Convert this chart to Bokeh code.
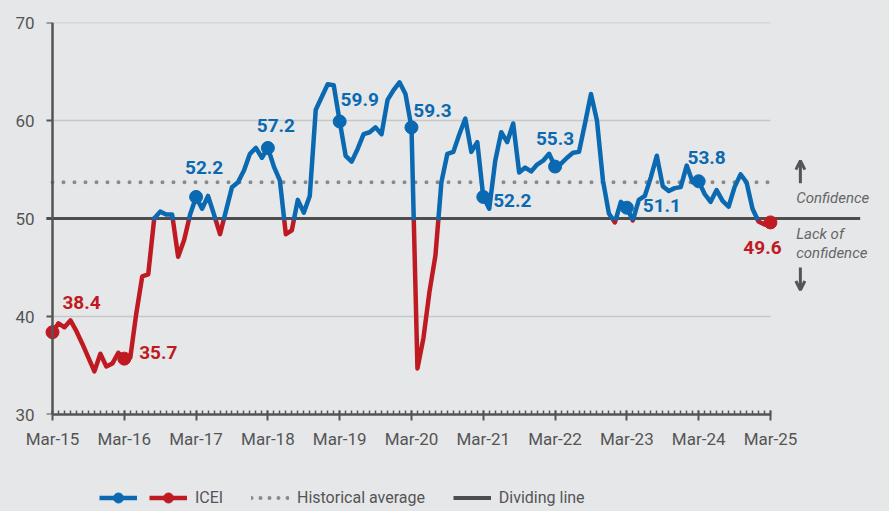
import math
from bokeh.plotting import figure
from bokeh.layouts import column
from bokeh.models import (Range1d, LinearAxis, FixedTicker, ColumnDataSource, Legend,
                          LegendItem, Label, Arrow, OpenHead, Span)
from bokeh.core.properties import value
from bokeh.embed import file_html
from bokeh.resources import INLINE

# ---------------- data ----------------
years = ["Mar-15", "Mar-16", "Mar-17", "Mar-18", "Mar-19", "Mar-20",
         "Mar-21", "Mar-22", "Mar-23", "Mar-24", "Mar-25"]
icei = [38.4, 39.3, 38.9, 39.6, 38.5, 37.2, 35.8, 34.4, 36.2, 34.9, 35.2, 36.3,
        35.7, 35.8, 40.3, 44.1, 44.3, 50.0, 50.7, 50.4, 50.4, 46.1, 47.8, 50.4,
        52.2, 51.0, 52.3, 50.4, 48.4, 50.8, 53.2, 53.7, 54.9, 56.6, 57.2, 56.2,
        57.2, 55.3, 53.9, 48.4, 48.8, 51.9, 50.6, 52.3, 61.1, 62.4, 63.7, 63.6,
        59.9, 56.4, 55.8, 57.1, 58.6, 58.8, 59.3, 58.6, 62.1, 63.1, 63.9, 62.7,
        59.3, 34.7, 37.8, 42.5, 46.2, 53.7, 56.6, 56.8, 58.6, 60.2, 56.8, 57.8,
        52.2, 51.0, 55.9, 58.8, 57.8, 59.7, 54.7, 55.2, 54.8, 55.5, 55.9, 56.6,
        55.3, 55.6, 56.2, 56.7, 56.8, 59.7, 62.7, 60.0, 53.9, 50.5, 49.6, 51.7,
        51.1, 49.8, 51.9, 52.3, 54.2, 56.4, 53.3, 52.8, 53.1, 53.2, 55.4, 53.7,
        53.8, 52.5, 51.7, 52.9, 51.8, 51.2, 53.2, 54.5, 53.7, 51.0, 49.7, 49.4,
        49.6]
highlight_idx = [0, 12, 24, 36, 48, 60, 72, 84, 96, 108, 120]
highlight_txt = ["38.4", "35.7", "52.2", "57.2", "59.9", "59.3", "52.2", "55.3", "51.1", "53.8", "49.6"]
historical_average = 53.7
dividing_line = 50.0
y_ticks = [30, 40, 50, 60, 70]
grid_levels = [40, 60, 70]

# ---------------- style ----------------
BG = "#e6e7e9"
BLUE = "#0a69b0"
RED = "#bf1a22"
AXC = "#555555"
FONT = "Roboto"
NB = "\u00a0"
# label offsets (screen px) for the highlighted values
lab_dx = [29, 34, 8, 8, 20, 21, 29, 0, 35, 8, -8]
lab_dy = [-30, -6, -29, -22, -22, -17, 4, -28, -2, -24, 25]

n = len(icei)
months = list(range(n))

# split the line where it crosses the dividing line
xs, ys = [], []
for k in range(n):
    if k > 0:
        a, b = icei[k - 1], icei[k]
        if (a - dividing_line) * (b - dividing_line) < 0:
            t = (dividing_line - a) / (b - a)
            xs.append(k - 1 + t)
            ys.append(dividing_line)
    xs.append(k)
    ys.append(icei[k])
blue_y = [y if y >= dividing_line else math.nan for y in ys]
red_y = [y if y <= dividing_line else math.nan for y in ys]

hx = highlight_idx
hy = [float(t) for t in highlight_txt]
hcol = [BLUE if v >= dividing_line else RED for v in hy]

px_per_month = 5.983
x0 = -8 / px_per_month
x1 = x0 + 836 / px_per_month
tick_len = 6 / px_per_month

LEG_H = 50
p = figure(width=889, height=511 - LEG_H, x_range=Range1d(x0, x1), y_range=Range1d(30, 70),
           output_backend="svg", toolbar_location=None,
           x_axis_type=None, y_axis_type=None,
           min_border_left=44, min_border_right=9, min_border_top=22,
           min_border_bottom=97 - LEG_H,
           background_fill_color=BG, border_fill_color=BG, outline_line_color=None)

# grid lines
p.segment(x0=[0] * len(grid_levels), x1=[n - 1] * len(grid_levels), y0=grid_levels, y1=grid_levels,
          line_color="#c6c7c9", line_width=1.5)

# y axis line and ticks (axis sits at Mar-15)
p.add_layout(Span(location=0, dimension="height", line_color=AXC, line_width=2.5))
p.segment(x0=[-tick_len] * len(y_ticks), x1=[0] * len(y_ticks), y0=y_ticks, y1=y_ticks,
          line_color=AXC, line_width=2)

# historical average (dotted)
p.line(x=[0, n - 1], y=[historical_average] * 2, line_color="#8a8a8a", line_width=4,
       line_dash="0 11", line_cap="round")
# dividing line
p.line(x=[-tick_len, 135], y=[dividing_line] * 2, line_color="#4d4d4d", line_width=3)

# ICEI line
p.line(x=xs, y=red_y, line_color=RED, line_width=4.5, line_join="round", line_cap="round")
p.line(x=xs, y=blue_y, line_color=BLUE, line_width=4.5, line_join="round", line_cap="round")

hsrc = ColumnDataSource(dict(x=hx, y=hy, t=highlight_txt, c=hcol, dx=lab_dx, dy=lab_dy))
p.scatter(x="x", y="y", source=hsrc, size=13, fill_color="c", line_color="c")
p.text(x="x", y="y", text="t", source=hsrc, text_color="c", x_offset="dx", y_offset="dy",
       text_align="center", text_baseline="middle", text_font=value(FONT),
       text_font_style="bold", text_font_size="19px")

# axes
xaxis = LinearAxis(ticker=FixedTicker(ticks=list(range(0, n, 12)), minor_ticks=months),
                   bounds=(0, n - 1),
                   major_label_overrides={i * 12: years[i] for i in range(len(years))})
xaxis.axis_line_color = AXC
xaxis.axis_line_width = 2.5
xaxis.major_tick_line_color = AXC
xaxis.major_tick_line_width = 2
xaxis.major_tick_in = 4
xaxis.major_tick_out = 6
xaxis.minor_tick_line_color = AXC
xaxis.minor_tick_line_width = 1.5
xaxis.minor_tick_in = 4
xaxis.minor_tick_out = 0
xaxis.major_label_text_font = FONT
xaxis.major_label_text_font_size = "17px"
xaxis.major_label_text_color = AXC
xaxis.major_label_standoff = 8
p.add_layout(xaxis, "below")

yaxis = LinearAxis(ticker=FixedTicker(ticks=y_ticks, minor_ticks=[]))
yaxis.axis_line_alpha = 0
yaxis.major_tick_in = 0
yaxis.major_tick_out = 0
yaxis.major_label_text_font = FONT
yaxis.major_label_text_font_size = "17px"
yaxis.major_label_text_color = AXC
yaxis.major_label_standoff = 10
p.add_layout(yaxis, "left")

# confidence annotations
for txt, yv in [("Confidence", 52.14), ("Lack of", 48.37), ("confidence", 46.53)]:
    p.add_layout(Label(x=124.3, y=yv, text=txt, text_font=FONT, text_font_style="italic",
                       text_font_size="15px", text_color="#666666", text_baseline="middle"))
p.add_layout(Arrow(end=OpenHead(size=9, line_width=3, line_color=AXC), x_start=125, y_start=53.6,
                   x_end=125, y_end=55.9, line_width=3, line_color=AXC))
p.add_layout(Arrow(end=OpenHead(size=9, line_width=3, line_color=AXC), x_start=125, y_start=45.0,
                   x_end=125, y_end=42.7, line_width=3, line_color=AXC))

# ---------------- legend strip ----------------
q = figure(width=889, height=LEG_H, x_range=Range1d(0, 1), y_range=Range1d(0, 1),
           output_backend="svg", toolbar_location=None, x_axis_type=None, y_axis_type=None,
           min_border=0, background_fill_color=BG, border_fill_color=BG, outline_line_color=None)
nan = [math.nan]
lb = q.line(x=nan, y=nan, line_color=BLUE, line_width=4.5)
lbd = q.scatter(x=nan, y=nan, fill_color=BLUE, line_color=BLUE)
lr = q.line(x=nan, y=nan, line_color=RED, line_width=4.5)
lrd = q.scatter(x=nan, y=nan, fill_color=RED, line_color=RED)
la = q.line(x=nan, y=nan, line_color="#8a8a8a", line_width=4, line_dash="0 9", line_cap="round")
ld = q.line(x=nan, y=nan, line_color="#4d4d4d", line_width=4)

legend = Legend(items=[LegendItem(label=NB, renderers=[lb, lbd]),
                       LegendItem(label="ICEI" + NB * 7, renderers=[lr, lrd]),
                       LegendItem(label="Historical average" + NB * 7, renderers=[la]),
                       LegendItem(label="Dividing line", renderers=[ld])],
                location=(55, 1), orientation="horizontal", padding=0, margin=0,
                spacing=0, label_standoff=8, label_width=0, glyph_width=38, glyph_height=25,
                background_fill_alpha=0, border_line_alpha=0,
                label_text_font=FONT, label_text_font_size="16px", label_text_color=AXC)
q.add_layout(legend)

layout = column(p, q, spacing=0, styles={"background-color": BG})
open("out.html", "w").write(file_html(layout, INLINE))
